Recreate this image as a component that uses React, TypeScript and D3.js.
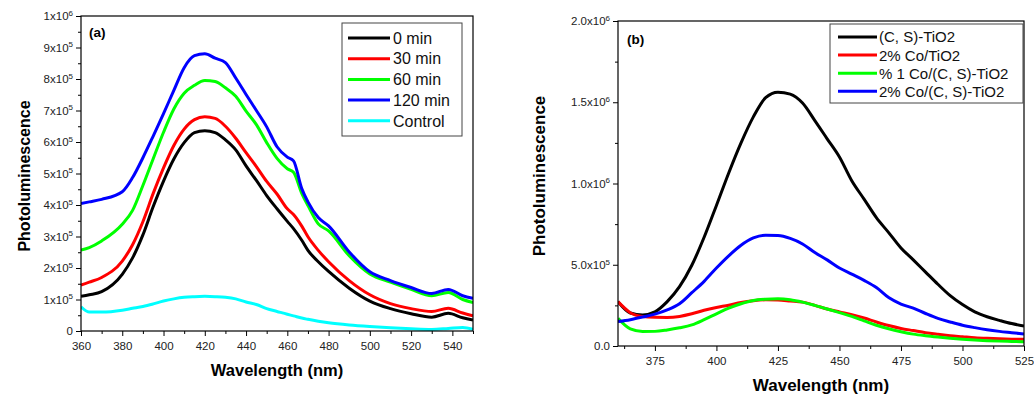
import React, { useEffect, useRef } from 'react';
import * as d3 from 'd3';

// ---- panel (a): wavelength grid (nm) and intensities in units of 1e5
const waveA = [360, 364, 370, 380, 385, 390, 395, 400, 405, 410, 415, 420, 425, 430, 435, 440, 445, 450, 455, 460, 463, 467, 470, 475, 480, 490, 500, 510, 520, 530, 538, 545, 550];
const min0 = [1.10, 1.15, 1.25, 1.80, 2.32, 3.05, 3.95, 4.76, 5.46, 5.98, 6.30, 6.36, 6.30, 6.07, 5.75, 5.24, 4.78, 4.30, 3.88, 3.48, 3.25, 2.88, 2.56, 2.20, 1.89, 1.36, 0.95, 0.71, 0.55, 0.44, 0.56, 0.42, 0.35];
const min30 = [1.46, 1.55, 1.70, 2.22, 2.74, 3.47, 4.37, 5.18, 5.89, 6.41, 6.71, 6.80, 6.75, 6.50, 6.12, 5.66, 5.22, 4.75, 4.35, 3.88, 3.70, 3.33, 2.99, 2.56, 2.20, 1.60, 1.15, 0.87, 0.71, 0.62, 0.72, 0.57, 0.48];
const min60 = [2.57, 2.65, 2.86, 3.39, 3.83, 4.62, 5.47, 6.31, 7.05, 7.55, 7.80, 7.95, 7.92, 7.72, 7.45, 6.98, 6.55, 5.98, 5.48, 5.15, 5.04, 4.37, 3.98, 3.40, 3.18, 2.39, 1.81, 1.55, 1.32, 1.12, 1.22, 1.00, 0.90];
const min120 = [4.05, 4.10, 4.18, 4.42, 4.87, 5.50, 6.19, 6.90, 7.64, 8.36, 8.74, 8.80, 8.66, 8.52, 8.03, 7.51, 7.00, 6.48, 5.85, 5.52, 5.40, 4.52, 4.10, 3.60, 3.34, 2.51, 1.88, 1.60, 1.38, 1.19, 1.32, 1.12, 1.04];
const control = [0.77, 0.60, 0.60, 0.66, 0.72, 0.78, 0.86, 0.95, 1.02, 1.07, 1.09, 1.10, 1.09, 1.07, 1.02, 0.92, 0.84, 0.71, 0.62, 0.53, 0.48, 0.41, 0.37, 0.31, 0.26, 0.19, 0.14, 0.10, 0.07, 0.05, 0.08, 0.11, 0.05];
const namesA = ['0 min', '30 min', '60 min', '120 min', 'Control'];
const colorsA = ['#000000', '#ff0000', '#00ff00', '#0000ff', '#00ffff'];
const xTicksA = [360, 380, 400, 420, 440, 460, 480, 500, 520, 540];
const xMinorA = [370, 390, 410, 430, 450, 470, 490, 510, 530, 550];
const yTicksA = [0, 1, 2, 3, 4, 5, 6, 7, 8, 9, 10];
const yMinorA = [0.5, 1.5, 2.5, 3.5, 4.5, 5.5, 6.5, 7.5, 8.5, 9.5];
const yLabelsA = [['0', ''], ['1x10', '5'], ['2x10', '5'], ['3x10', '5'], ['4x10', '5'], ['5x10', '5'], ['6x10', '5'], ['7x10', '5'], ['8x10', '5'], ['9x10', '5'], ['1x10', '6']];

// ---- panel (b)
const waveB = [360, 365, 370, 375, 380, 385, 390, 395, 400, 405, 410, 415, 420, 425, 430, 435, 440, 445, 450, 455, 460, 465, 470, 475, 480, 485, 490, 495, 500, 505, 510, 515, 520, 525];
const csTiO2 = [2.73, 2.03, 1.91, 2.10, 2.73, 3.65, 4.97, 6.69, 8.65, 10.65, 12.50, 14.10, 15.28, 15.62, 15.50, 14.95, 13.87, 12.75, 11.63, 10.17, 9.04, 7.90, 6.98, 6.03, 5.30, 4.55, 3.80, 3.10, 2.55, 2.10, 1.80, 1.58, 1.38, 1.23];
const coTiO2 = [2.73, 2.05, 1.82, 1.77, 1.76, 1.82, 1.98, 2.20, 2.37, 2.51, 2.68, 2.79, 2.84, 2.83, 2.77, 2.70, 2.50, 2.28, 2.10, 1.93, 1.72, 1.48, 1.26, 1.08, 0.95, 0.82, 0.72, 0.63, 0.57, 0.51, 0.47, 0.44, 0.42, 0.41];
const co1CsTiO2 = [1.70, 1.05, 0.89, 0.90, 0.99, 1.12, 1.30, 1.62, 1.98, 2.33, 2.60, 2.80, 2.88, 2.91, 2.85, 2.70, 2.50, 2.28, 2.05, 1.82, 1.55, 1.28, 1.06, 0.88, 0.73, 0.63, 0.55, 0.48, 0.42, 0.37, 0.33, 0.30, 0.28, 0.26];
const co2CsTiO2 = [1.50, 1.62, 1.78, 1.96, 2.22, 2.60, 3.28, 3.98, 4.80, 5.55, 6.20, 6.65, 6.82, 6.80, 6.62, 6.28, 5.75, 5.30, 4.80, 4.42, 4.04, 3.60, 2.98, 2.58, 2.33, 2.00, 1.70, 1.48, 1.28, 1.13, 1.00, 0.90, 0.82, 0.74];
const namesB = ['(C, S)-TiO2', '2% Co/TiO2', '% 1 Co/(C, S)-TiO2', '2% Co/(C, S)-TiO2'];
const colorsB = ['#000000', '#ff0000', '#00ff00', '#0000ff'];
const xTicksB = [375, 400, 425, 450, 475, 500, 525];
const xMinorB = [362.5, 387.5, 412.5, 437.5, 462.5, 487.5, 512.5];
const yTicksB = [0, 5, 10, 15, 20];
const yMinorB = [2.5, 7.5, 12.5, 17.5];
const yLabelsB = [['0.0', ''], ['5.0x10', '5'], ['1.0x10', '6'], ['1.5x10', '6'], ['2.0x10', '6']];

const FONT = 'Liberation Sans, Arial, Helvetica, sans-serif';

function drawPanel(svg: any, c: any) {
  const x = d3.scaleLinear().domain(c.xDomain).range([c.left, c.right]);
  const y = d3.scaleLinear().domain(c.yDomain).range([c.bottom, c.top]);

  const clipId = 'clip-' + c.id;
  svg.append('clipPath').attr('id', clipId).append('rect')
    .attr('x', c.left).attr('y', c.top).attr('width', c.right - c.left).attr('height', c.bottom - c.top);

  const line = d3.line<number>()
    .x((d, i) => x(c.waves[i]))
    .y((d) => y(d))
    .curve(d3.curveMonotoneX);

  svg.append('g').attr('clip-path', `url(#${clipId})`)
    .selectAll('path')
    .data(c.series)
    .join('path')
    .attr('d', (s: any) => line(s))
    .attr('fill', 'none')
    .attr('stroke', (s: any, i: number) => c.colors[i])
    .attr('stroke-width', 3)
    .attr('stroke-linejoin', 'round');

  // x axis
  const gx = svg.append('g').attr('transform', `translate(0,${c.bottom})`)
    .call(d3.axisBottom(x).tickValues(c.xTicks).tickSize(5).tickSizeOuter(0).tickPadding(6).tickFormat(d3.format('d')));
  gx.select('.domain').remove();
  gx.selectAll('text').attr('font-size', 11.5).attr('font-family', FONT).attr('fill', '#222');
  const gxm = svg.append('g').attr('transform', `translate(0,${c.bottom})`)
    .call(d3.axisBottom(x).tickValues(c.xMinor).tickSize(3).tickFormat(() => ''));
  gxm.select('.domain').remove();

  // y axis
  const gy = svg.append('g').attr('transform', `translate(${c.left},0)`)
    .call(d3.axisLeft(y).tickValues(c.yTicks).tickSize(5).tickSizeOuter(0).tickPadding(3));
  gy.select('.domain').remove();
  gy.selectAll('text').each(function (this: any, d: any, i: number) {
    const [m, e] = c.yLabels[i];
    const t = d3.select(this);
    t.text(null).attr('font-size', 11.5).attr('font-family', FONT).attr('fill', '#222');
    t.append('tspan').text(m);
    if (e) t.append('tspan').attr('dy', '-0.55em').attr('font-size', 8).text(e);
  });
  const gym = svg.append('g').attr('transform', `translate(${c.left},0)`)
    .call(d3.axisLeft(y).tickValues(c.yMinor).tickSize(3).tickFormat(() => ''));
  gym.select('.domain').remove();

  // frame
  svg.append('rect')
    .attr('x', c.left).attr('y', c.top)
    .attr('width', c.right - c.left).attr('height', c.bottom - c.top)
    .attr('fill', 'none').attr('stroke', '#000').attr('stroke-width', 1.2);

  // panel tag
  svg.append('text').attr('x', c.tag.x).attr('y', c.tag.y)
    .attr('font-family', FONT).attr('font-weight', 'bold').attr('font-size', 13.5).text(c.tag.text);

  // axis titles
  svg.append('text').attr('x', c.xTitle.x).attr('y', c.xTitle.y).attr('text-anchor', 'middle')
    .attr('font-family', FONT).attr('font-weight', 'bold').attr('font-size', c.xTitle.size).text('Wavelength (nm)');
  svg.append('text').attr('transform', `translate(${c.yTitle.x},${c.yTitle.y}) rotate(-90)`).attr('text-anchor', 'middle')
    .attr('font-family', FONT).attr('font-weight', 'bold').attr('font-size', c.yTitle.size).text('Photoluminescence');

  // legend
  const L = c.legend;
  svg.append('rect').attr('x', L.x).attr('y', L.y).attr('width', L.w).attr('height', L.h)
    .attr('fill', '#fff').attr('stroke', '#444').attr('stroke-width', 1);
  c.names.forEach((n: string, i: number) => {
    const yy = L.firstY + i * L.rowH;
    svg.append('line').attr('x1', L.lx0).attr('x2', L.lx1).attr('y1', yy).attr('y2', yy)
      .attr('stroke', c.colors[i]).attr('stroke-width', 3);
    svg.append('text').attr('x', L.tx).attr('y', yy).attr('dy', '0.36em')
      .attr('font-family', FONT).attr('font-size', L.size).attr('fill', '#111').text(n);
  });
}

export default function App() {
  const ref = useRef<SVGSVGElement>(null);

  useEffect(() => {
    const svg = d3.select(ref.current);
    svg.selectAll('*').remove();

    drawPanel(svg, {
      id: 'a', left: 81, right: 473, top: 16, bottom: 331,
      xDomain: [360, 550], yDomain: [0, 10],
      waves: waveA, series: [min0, min30, min60, min120, control],
      names: namesA, colors: colorsA,
      xTicks: xTicksA, xMinor: xMinorA, yTicks: yTicksA, yMinor: yMinorA, yLabels: yLabelsA,
      tag: { text: '(a)', x: 89, y: 37 },
      xTitle: { x: 277, y: 376, size: 16.5 },
      yTitle: { x: 30, y: 176, size: 16 },
      legend: { x: 342, y: 23, w: 120, h: 113, firstY: 38, rowH: 20.7, lx0: 348, lx1: 390, tx: 393, size: 16 },
    });

    drawPanel(svg, {
      id: 'b', left: 618, right: 1024, top: 21, bottom: 346,
      xDomain: [360, 525], yDomain: [0, 20],
      waves: waveB, series: [csTiO2, coTiO2, co1CsTiO2, co2CsTiO2],
      names: namesB, colors: colorsB,
      xTicks: xTicksB, xMinor: xMinorB, yTicks: yTicksB, yMinor: yMinorB, yLabels: yLabelsB,
      tag: { text: '(b)', x: 627, y: 44 },
      xTitle: { x: 821, y: 391, size: 17 },
      yTitle: { x: 545, y: 176, size: 17 },
      legend: { x: 830, y: 24, w: 193, h: 79, firstY: 37, rowH: 18.1, lx0: 838, lx1: 877, tx: 879, size: 15 },
    });
  }, []);

  return (
    <div style={{ position: 'absolute', left: 0, top: 0 }}>
      <svg ref={ref} width={1034} height={396} style={{ display: 'block', background: '#fff' }} />
    </div>
  );
}
